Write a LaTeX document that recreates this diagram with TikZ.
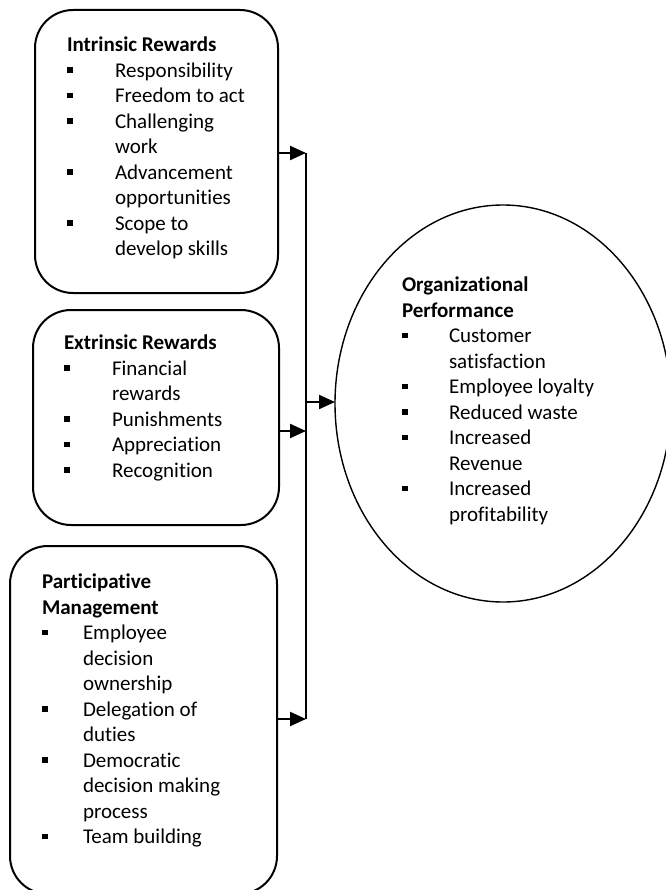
\documentclass[tikz,border=0pt]{standalone}
\usepackage{fontspec}
\setmainfont{Carlito}[Ligatures=NoCommon]
\usepackage{tikz}
\usetikzlibrary{arrows.meta,shapes.geometric,positioning,calc}
\tikzstyle{box}   =[draw, rounded corners=38pt, line width=2pt,
                    inner sep=0pt, outer sep=0pt]
\tikzstyle{oval}  =[draw, ellipse, line width=1.4pt,
                    inner sep=0pt, outer sep=0pt,
                    minimum width=336pt, minimum height=397pt]
\tikzstyle{txt}   =[inner sep=0pt, outer sep=0pt,
                    font=\fontsize{21}{25.5}\selectfont]
\tikzstyle{bus}   =[line width=2.2pt]
\tikzstyle{arr}   =[line width=2.2pt,
                    -{Triangle[length=16pt,width=14pt]}]
\newcommand{\bul}{\rule[4.5pt]{5.5pt}{5.5pt}}

\begin{document}
\begin{tikzpicture}[x=1pt, y=-1pt]
    \useasboundingbox (0,0) rectangle (665,890);

    % the three groups of drivers
    \node (intr) [box, minimum width=243pt, minimum height=283pt] at (156.5,151.5) {};
    \node (extr) [box, minimum width=246pt, minimum height=215pt] at (156,417.5) {};
    \node (part) [box, minimum width=267pt, minimum height=348pt] at (143.5,720) {};
    \node (perf) [oval] at (503,403.5) {};

    \node (intrtxt) [txt, below right=24pt and 32pt of intr.north west]
        {\begin{tabular}{@{}p{48pt}@{}l@{}}
            \multicolumn{2}{@{}l@{}}{\textbf{Intrinsic Rewards}}\\
            \bul & Responsibility\\
            \bul & Freedom to act\\
            \bul & Challenging\\
                 & work\\
            \bul & Advancement\\
                 & opportunities\\
            \bul & Scope to\\
                 & develop skills
        \end{tabular}};
    \node (extrtxt) [txt, below right=22pt and 31pt of extr.north west]
        {\begin{tabular}{@{}p{48pt}@{}l@{}}
            \multicolumn{2}{@{}l@{}}{\textbf{Extrinsic Rewards}}\\
            \bul & Financial\\
                 & rewards\\
            \bul & Punishments\\
            \bul & Appreciation\\
            \bul & Recognition
        \end{tabular}};
    \node (parttxt) [txt, below right=25pt and 32pt of part.north west]
        {\begin{tabular}{@{}p{41pt}@{}l@{}}
            \multicolumn{2}{@{}l@{}}{\textbf{Participative}}\\
            \multicolumn{2}{@{}l@{}}{\textbf{Management}}\\
            \bul & Employee\\
                 & decision\\
                 & ownership\\
            \bul & Delegation of\\
                 & duties\\
            \bul & Democratic\\
                 & decision making\\
                 & process\\
            \bul & Team building
        \end{tabular}};
    \node (perftxt) [txt, below right=69pt and -101pt of perf.north]
        {\begin{tabular}{@{}p{47pt}@{}l@{}}
            \multicolumn{2}{@{}l@{}}{\textbf{Organizational}}\\
            \multicolumn{2}{@{}l@{}}{\textbf{Performance}}\\
            \bul & Customer\\
                 & satisfaction\\
            \bul & Employee loyalty\\
            \bul & Reduced waste\\
            \bul & Increased\\
                 & Revenue\\
            \bul & Increased\\
                 & profitability
        \end{tabular}};

    % collecting line
    \coordinate (j1) at (306,153);
    \coordinate (j2) at (306,431);
    \coordinate (j3) at (306,719);
    \draw[bus] (j1) -- (j3);
    \draw[arr] (intr.east |- j1) -- (j1);
    \draw[arr] (extr.east |- j2) -- (j2);
    \draw[arr] (part.east |- j3) -- (j3);
    \draw[arr] ($(j1 |- perf.west)+(0,-1.5)$) -- ($(perf.west)+(0,-1.5)$);
\end{tikzpicture}
\end{document}
